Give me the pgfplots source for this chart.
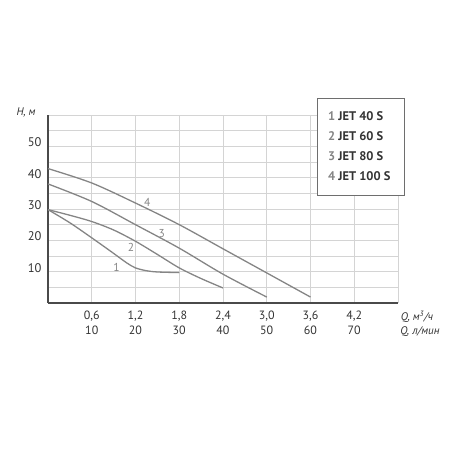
\documentclass[border=0pt]{standalone}
\usepackage{pgfplots}
\pgfplotsset{compat=1.18}
\usepackage{fontspec}
\setmainfont{PT Sans}
\definecolor{curve}{HTML}{858585}
\definecolor{axisc}{HTML}{4A4A4A}
\definecolor{gridc}{HTML}{D4D4D4}
\definecolor{txt}{HTML}{333333}
\tikzset{pc/.style={color=curve, line width=1.3pt, smooth, mark=none}}
\begin{document}
\begin{tikzpicture}[x=1pt,y=1pt]
\useasboundingbox (0,0) rectangle (450,450);
\begin{axis}[
  at={(48pt,147pt)}, anchor=origin,
  scale only axis, width=350pt, height=188pt,
  xmin=0, xmax=4.8, ymin=0, ymax=60,
  axis lines=left, axis line style={-, color=axisc, line width=1.5pt},
  xtick={0,0.6,...,4.8}, ytick={0,5,...,60},
  xticklabels={,{0,6\\10},{1,2\\20},{1,8\\30},{2,4\\40},{3,0\\50},{3,6\\60},{4,2\\70},},
  yticklabels={,,10,,20,,30,,40,,50,,},
  xticklabel style={align=center, font=\fontsize{12}{15}\selectfont, text=txt, yshift=-4pt},
  yticklabel style={font=\fontsize{12.5}{13}\selectfont, text=txt, yshift=4pt, xshift=-3pt},
  major tick length=0pt,
  grid=major, grid style={gridc, line width=0.8pt},
  clip=false,
]
\addplot[pc] coordinates {(0,29.8)(0.3,25.6)(0.6,20.8)(0.89,16)(1.08,12.8)(1.2,11.2)(1.35,10.3)(1.5,9.9)(1.8,9.7)};
\addplot[pc] coordinates {(0,29.8)(0.3,28)(0.6,26)(0.9,23.3)(1.2,19.7)(1.5,15.5)(1.8,11.2)(2.1,7.8)(2.4,4.8)};
\addplot[pc] coordinates {(0,38)(0.6,32.4)(1.2,25)(1.8,17.5)(2.4,9.2)(3.0,1.9)};
\addplot[pc] coordinates {(0,42.9)(0.6,38.3)(1.2,31.9)(1.8,25)(2.4,17.3)(3.0,9.6)(3.6,1.9)};
\node[text=curve, font=\fontsize{11.5}{12}\selectfont] at (axis cs:0.94,11.5) {1};
\node[text=curve, font=\fontsize{11.5}{12}\selectfont] at (axis cs:1.14,17.6) {2};
\node[text=curve, font=\fontsize{11.5}{12}\selectfont] at (axis cs:1.56,22.3) {3};
\node[text=curve, font=\fontsize{11.5}{12}\selectfont] at (axis cs:1.36,32.2) {4};
\end{axis}
\node[font=\itshape\fontsize{11}{12}\selectfont, text=txt] at (26,338) {H, м};
\node[font=\itshape\fontsize{11}{12}\selectfont, text=txt] at (417,133) {Q, м\textsuperscript{3}/ч};
\node[font=\itshape\fontsize{11}{12}\selectfont, text=txt] at (420,118) {Q, л/мин};
\draw[axisc!80, line width=0.8pt, fill=white] (317,352) rectangle (404,255);
\node[anchor=west, align=left, font=\bfseries\fontsize{12.5}{20}\selectfont, text=txt, inner sep=0pt] at (328,303.5)
  {\textcolor{curve}{1} JET 40 S\\ \textcolor{curve}{2} JET 60 S\\ \textcolor{curve}{3} JET 80 S\\ \textcolor{curve}{4} JET 100 S};
\end{tikzpicture}
\end{document}
